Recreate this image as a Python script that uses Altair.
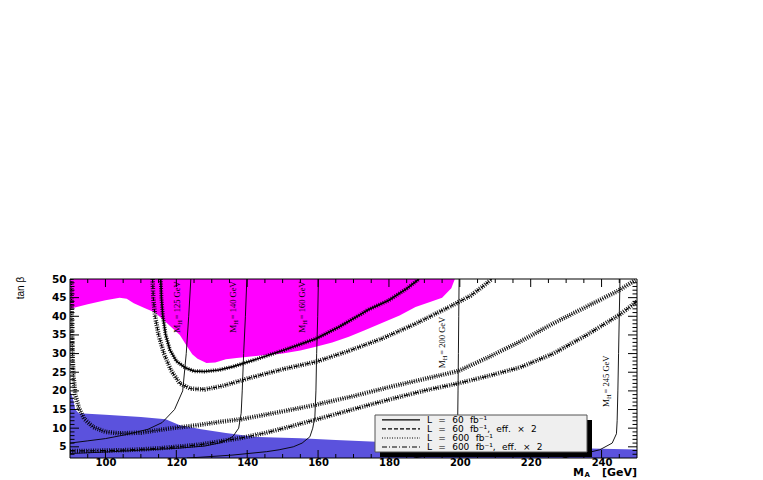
import altair as alt
import pandas as pd

# ---------------- data ----------------
# excluded region (magenta): lower boundary, filled up to tan(beta)=50
mag_x = [90, 95, 100, 104, 106, 108, 111, 114, 117, 121, 123, 124.5, 126, 128.5, 131, 134, 137, 141,
         145, 150, 155, 159.4, 164, 168.7, 173, 178, 183, 187.5, 192, 195, 197.6, 198.6]
mag_y = [42, 43.2, 44.3, 45, 44.7, 43.5, 42.2, 41, 38.5, 35, 32, 29.8, 28.6, 27.5, 27.6, 28.5, 28.8, 29.2,
         29.6, 30, 30.8, 31.8, 33, 34.5, 36.2, 38.2, 40.2, 42.5, 44, 45, 47.5, 50]

# excluded region (blue): upper boundary, filled down to tan(beta)=2
blue_x = [90, 90.8, 91.5, 92.5, 100, 110, 117, 119, 121, 127, 134, 143, 155, 165, 178, 200, 220, 250]
blue_y = [20, 18, 15, 14, 13.6, 13, 12.4, 11.6, 10.8, 9.7, 8.7, 7.6, 7.3, 6.8, 6.3, 5.5, 4.9, 4.3]

# discovery contours
c1_x = [115.6, 115.8, 116.2, 117.0, 118.2, 120.0, 122.5, 125.0, 128.0, 132.0, 136.0, 141.0, 150.0,
        159.4, 166.0, 172.0, 174.0, 180.0, 185.0, 188.5]
c1_y = [50, 45, 40, 35, 31, 28, 26.2, 25.3, 25.2, 25.6, 26.5, 28.0, 30.8, 34.0, 37.2, 40.5, 41.7,
        44.3, 47.4, 50]

c2_x = [113.3, 113.5, 114.0, 115.0, 116.5, 118.5, 121.0, 124.0, 128.0, 133.0, 140.8, 150.0, 159.4,
        168.0, 178.0, 187.5, 197.0, 203.0, 206.5, 209.0]
c2_y = [50, 45, 40, 35, 30, 25.5, 22, 20.6, 20.4, 21.3, 23.5, 25.8, 27.8, 30.5, 34, 38, 42.5, 45.5,
        48, 50]

c3_x = [90.4, 90.5, 90.7, 91.0, 91.5, 92.5, 94.0, 96.5, 100.0, 104.0, 110.0, 118.0, 126.0, 133.0,
        138.4, 150.0, 159.0, 170.0, 180.0, 190.0, 199.5, 208.0, 217.0, 226.4, 235.8, 245.2, 249.5]
c3_y = [50, 40, 30, 24, 19, 15.5, 12.5, 10.3, 9.0, 8.6, 8.8, 9.9, 10.8, 11.8, 12.4, 14.5, 16.2, 18.6,
        21, 23.2, 25.3, 29, 33.2, 38.1, 42.6, 47.1, 49.7]

c4_x = [90, 95, 100, 105, 110, 115, 120, 126.7, 132, 138.4, 145, 152, 159, 167, 175, 183, 191, 199.5,
        208, 217, 226.4, 235.8, 245.2, 250]
c4_y = [3.9, 3.9, 4.0, 4.1, 4.3, 4.6, 5.0, 5.6, 6.4, 7.4, 8.7, 10.4, 12.2, 14.3, 16.4, 18.4, 20.3,
        22.0, 24.0, 26.3, 30.0, 35.0, 40.5, 44.0]

# iso-M_H lines
mh125_x = [124.1, 123.5, 122.8, 121.8, 119.5, 116, 112, 106, 100, 95, 90]
mh125_y = [50, 40, 30, 20, 15, 11.5, 9.7, 8.3, 7.2, 6.6, 6.0]
mh140_x = [139.9, 139.5, 139.0, 138.6, 138.3, 137.6, 136, 133, 128, 120, 110, 100, 90]
mh140_y = [50, 40, 30, 20, 14, 10, 7.8, 6.2, 5.2, 4.6, 4.1, 3.6, 3.2]
mh160_x = [160.1, 159.9, 159.6, 159.4, 159.1, 158.5, 157.7, 155.5, 153, 149, 145.5, 136, 126.7, 123]
mh160_y = [50, 40, 30, 20, 13, 10, 7.7, 6, 5, 4.2, 3.7, 2.8, 2.2, 2.0]
mh200_x = [199.8, 199.7, 199.6, 199.5, 199.4, 199.2, 198.5, 197, 194, 190, 187]
mh200_y = [50, 40, 30, 20, 12, 8, 6, 4.5, 3.2, 2.5, 2.0]
mh245_x = [245.2, 245.0, 244.8, 244.6, 244.4, 244.2, 243, 239.5, 235, 231, 229]
mh245_y = [50, 40, 30, 20, 12, 8.5, 6, 4.2, 3.2, 2.4, 2.0]

mh_values = ["125", "140", "160", "200", "245"]
mh_label_x = [120.2, 136.0, 155.5, 195.0, 241.2]
mh_label_y = [35.6, 35.6, 35.6, 26.1, 15.7]

legend_labels = ["L = 60 fb\u207b\u00b9",
                 "L = 60 fb\u207b\u00b9, eff. \u00d7 2",
                 "L = 600 fb\u207b\u00b9",
                 "L = 600 fb\u207b\u00b9, eff. \u00d7 2"]

x_ticks = [100, 120, 140, 160, 180, 200, 220, 240]
y_ticks = [5, 10, 15, 20, 25, 30, 35, 40, 45, 50]

# ---------------- chart ----------------
W, H = 567, 179
FONT = "DejaVu Sans"

xs = alt.Scale(domain=[90, 250], nice=False, zero=False)
ys = alt.Scale(domain=[2, 50], nice=False, zero=False)
X = alt.X("ma:Q", scale=xs, axis=alt.Axis(values=x_ticks, title=None, grid=False, ticks=False,
                                          tickSize=0, domain=False, labelFont=FONT,
                                          labelFontWeight="bold", labelFontSize=10,
                                          labelColor="black", labelPadding=-1))
Y = alt.Y("tb:Q", scale=ys, axis=alt.Axis(values=y_ticks, title=None, grid=False, ticks=False,
                                          tickSize=0, domain=False, labelFont=FONT,
                                          labelFontWeight="bold", labelFontSize=10.5,
                                          labelColor="black", labelPadding=4))


def df(xv, yv):
    return pd.DataFrame({"ma": xv, "tb": yv, "i": list(range(len(xv)))})


def area_df(xv, yv, edge):
    return pd.DataFrame({"ma": xv, "tb": yv, "edge": [edge] * len(xv)})


layers = []
layers.append(alt.Chart(area_df(mag_x, mag_y, 50)).mark_area(color="#ff00ff", clip=True, opacity=1,
                                                             interpolate="linear")
              .encode(x=X, y=Y, y2=alt.Y2("edge:Q")))
layers.append(alt.Chart(area_df(blue_x, blue_y, 2)).mark_area(color="#5b52dd", clip=True, opacity=1,
                                                             interpolate="linear")
              .encode(x=X, y=Y, y2=alt.Y2("edge:Q")))

curves = [(c1_x, c1_y, []), (c2_x, c2_y, [4, 2]), (c3_x, c3_y, [1, 1.5]), (c4_x, c4_y, [5, 2, 1, 2])]
for k, (cx, cy, dash) in enumerate(curves):
    layers.append(alt.Chart(df(cx, cy)).mark_line(color="black", strokeWidth=4.5 if k else 4,
                                                  strokeDash=[1, 1.3], clip=True, opacity=0.85)
                  .encode(x=X, y=Y, order="i:Q"))
for k, (cx, cy, dash) in enumerate(curves):
    kw = dict(color="black", strokeWidth=1.6 if k == 0 else 1.2, clip=True)
    if dash:
        kw["strokeDash"] = dash
    layers.append(alt.Chart(df(cx, cy)).mark_line(**kw).encode(x=X, y=Y, order="i:Q"))

for mx, my in [(mh125_x, mh125_y), (mh140_x, mh140_y), (mh160_x, mh160_y),
               (mh200_x, mh200_y), (mh245_x, mh245_y)]:
    layers.append(alt.Chart(df(mx, my)).mark_line(color="black", strokeWidth=0.9, clip=True)
                  .encode(x=X, y=Y, order="i:Q"))

lab = pd.DataFrame({"ma": mh_label_x, "tb": mh_label_y,
                    "txt": ["= " + v + " GeV" for v in mh_values]})
SER = "Liberation Serif"
layers.append(alt.Chart(lab).mark_text(angle=270, align="left", baseline="middle", font=SER,
                                       fontSize=9, color="black", text="M")
              .encode(x=X, y=Y))
layers.append(alt.Chart(lab).mark_text(angle=270, align="left", baseline="middle", font=SER,
                                       fontSize=6.5, color="black", text="H", dx=8, dy=3)
              .encode(x=X, y=Y))
layers.append(alt.Chart(lab).mark_text(angle=270, align="left", baseline="middle", font=SER,
                                       fontSize=8.5, color="black", dx=13.5)
              .encode(x=X, y=Y, text="txt:N"))

# ROOT-style inward ticks
maj_y = [v for v in range(5, 50, 5)]
min_y = [v for v in range(3, 50) if v % 5 != 0]
maj_x = x_ticks
min_x = [v for v in range(95, 250, 5) if v % 20 != 0]
tdf_y_maj = pd.DataFrame({"tb": maj_y})
tdf_y_min = pd.DataFrame({"tb": min_y})
tdf_x_maj = pd.DataFrame({"ma": maj_x})
tdf_x_min = pd.DataFrame({"ma": min_x})
for d, L in [(tdf_y_maj, 9), (tdf_y_min, 4.5)]:
    layers.append(alt.Chart(d).mark_rule(color="black", strokeWidth=1)
                  .encode(y=Y, x=alt.value(0), x2=alt.value(L)))
    layers.append(alt.Chart(d).mark_rule(color="black", strokeWidth=1)
                  .encode(y=Y, x=alt.value(W), x2=alt.value(W - L)))
for d, L in [(tdf_x_maj, 8), (tdf_x_min, 4)]:
    layers.append(alt.Chart(d).mark_rule(color="black", strokeWidth=1)
                  .encode(x=X, y=alt.value(H), y2=alt.value(H - L)))
    layers.append(alt.Chart(d).mark_rule(color="black", strokeWidth=1)
                  .encode(x=X, y=alt.value(0), y2=alt.value(L)))

# legend box
one = pd.DataFrame({"k": [0]})
layers.append(alt.Chart(one).mark_rect(color="black")
              .encode(x=alt.value(310), x2=alt.value(522), y=alt.value(141), y2=alt.value(178)))
layers.append(alt.Chart(one).mark_rect(fill="#efefef", stroke="#555555", strokeWidth=1)
              .encode(x=alt.value(305), x2=alt.value(517), y=alt.value(136), y2=alt.value(173)))
row_y = [140.8, 149.9, 159.0, 168.0]
dashes = [[], [4, 2], [1, 1.5], [5, 2, 1, 2]]
SP = "\u2002\u2009"
for r, dsh, txt in zip(row_y, dashes, legend_labels):
    kw = dict(color="black", strokeWidth=1.2)
    if dsh:
        kw["strokeDash"] = dsh
    layers.append(alt.Chart(one).mark_rule(**kw)
                  .encode(x=alt.value(312), x2=alt.value(350), y=alt.value(r)))
    layers.append(alt.Chart(one).mark_text(align="left", baseline="middle", font=FONT, fontSize=9,
                                           color="black", text=txt.replace(" ", SP))
                  .encode(x=alt.value(357), y=alt.value(r)))

# axis titles
layers.append(alt.Chart(one).mark_text(angle=270, align="center", baseline="middle",
                                       font="Liberation Sans", fontSize=10, color="black",
                                       text="tan \u03b2")
              .encode(x=alt.value(-49), y=alt.value(9)))
layers.append(alt.Chart(one).mark_text(align="left", baseline="middle", font=FONT, fontSize=11,
                                       fontWeight="bold", color="black", text="M")
              .encode(x=alt.value(503), y=alt.value(194)))
layers.append(alt.Chart(one).mark_text(align="left", baseline="middle", font=FONT, fontSize=7,
                                       fontWeight="bold", color="black", text="A")
              .encode(x=alt.value(514.5), y=alt.value(196)))
layers.append(alt.Chart(one).mark_text(align="left", baseline="middle", font=FONT, fontSize=11,
                                       fontWeight="bold", color="black", text="[GeV]")
              .encode(x=alt.value(532), y=alt.value(194)))

# frame on top
layers.append(alt.Chart(one).mark_rect(filled=False, stroke="black", strokeWidth=1)
              .encode(x=alt.value(0), x2=alt.value(W), y=alt.value(0), y2=alt.value(H)))

chart = (alt.layer(*layers)
         .properties(width=W, height=H, background="white",
                     padding={"left": 62, "top": 271, "right": 118, "bottom": 22},
                     autosize=alt.AutoSizeParams(type="none"))
         .configure_view(stroke=None))

chart.save("out.html", embed_options={"renderer": "svg", "actions": False})
